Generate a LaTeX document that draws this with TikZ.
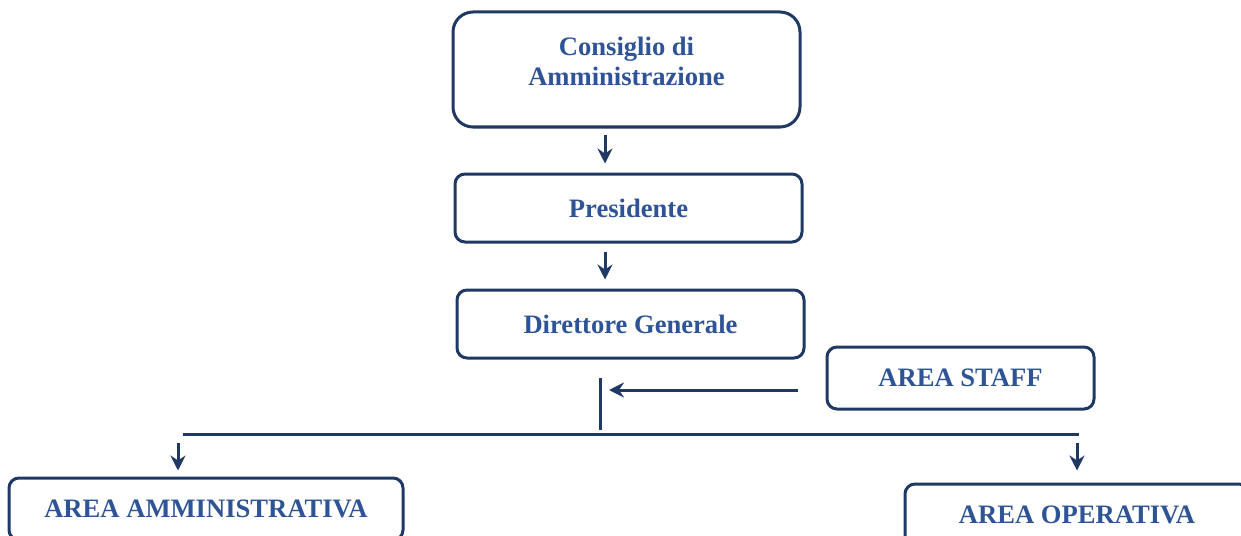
\documentclass[tikz,border=0pt]{standalone}
\usepackage{fontspec}
\setmainfont{Liberation Serif}
\usetikzlibrary{arrows.meta}

\definecolor{navy}{RGB}{31,56,100}
\definecolor{inkblue}{RGB}{47,84,150}

\tikzset{
  box/.style={draw=navy, line width=1.5pt, rounded corners=5pt, text=inkblue,
    font=\fontsize{13.3}{15}\selectfont\bfseries, inner sep=0pt},
  lbl/.style={text=inkblue, font=\fontsize{13.3}{15}\selectfont\bfseries, inner sep=0pt},
  arr/.style={draw=navy, line width=1.5pt, -{Stealth[length=7.5pt, width=7.5pt, inset=2.5pt]}},
  bar/.style={draw=navy, line width=1.5pt}
}

\begin{document}
\begin{tikzpicture}[x=0.5pt, y=-0.5pt]

\def\width{1241}
\def\height{535}

\path [use as bounding box] (0,0) rectangle (\width,\height);

% BOXES
\node[box, rounded corners=10pt, minimum width=173.5pt, minimum height=57.5pt] (cda) at (626.5,69.5) {};
\node[lbl, align=center] (cdatxt) at (626.5,61) {Consiglio di\\Amministrazione};
\node[box, minimum width=173.5pt, minimum height=34pt] (pres) at (628.5,208) {Presidente};
\node[box, minimum width=173.5pt, minimum height=34pt] (dg) at (630.5,324) {Direttore Generale};
\node[box, minimum width=133.5pt, minimum height=31pt] (staff) at (960.5,378) {AREA STAFF};
\node[box, minimum width=197pt, minimum height=31pt] (amm) at (206,509) {AREA AMMINISTRATIVA};
\node[box, minimum width=172pt, minimum height=31pt] (oper) at (1077,515) {AREA OPERATIVA};

% JOINTS
\coordinate (spine) at (605,0);
\coordinate (join) at (600,378);
\coordinate (bus) at (600,430);
\coordinate (busL) at (183,434);
\coordinate (busR) at (1079,434);
\coordinate (dropL) at (178,434);
\coordinate (dropR) at (1077,434);
\coordinate (feed) at ([yshift=-6pt]staff.west);

% LINKS
\draw [arr, shorten <=3pt, shorten >=4.5pt] (cda.south -| spine) -- (pres.north -| spine);
\draw [arr, shorten <=4pt, shorten >=4.5pt] (pres.south -| spine) -- (dg.north -| spine);
\draw [bar] (join) -- (bus);
\draw [arr, shorten <=14pt, shorten >=4.5pt] (feed) -- (feed -| join);
\draw [bar] (busL) -- (busR);
\draw [arr, shorten <=4.5pt, shorten >=3pt] (dropL) -- (dropL |- amm.north);
\draw [arr, shorten <=4.5pt, shorten >=6pt] (dropR) -- (dropR |- oper.north);

\end{tikzpicture}
\end{document}
